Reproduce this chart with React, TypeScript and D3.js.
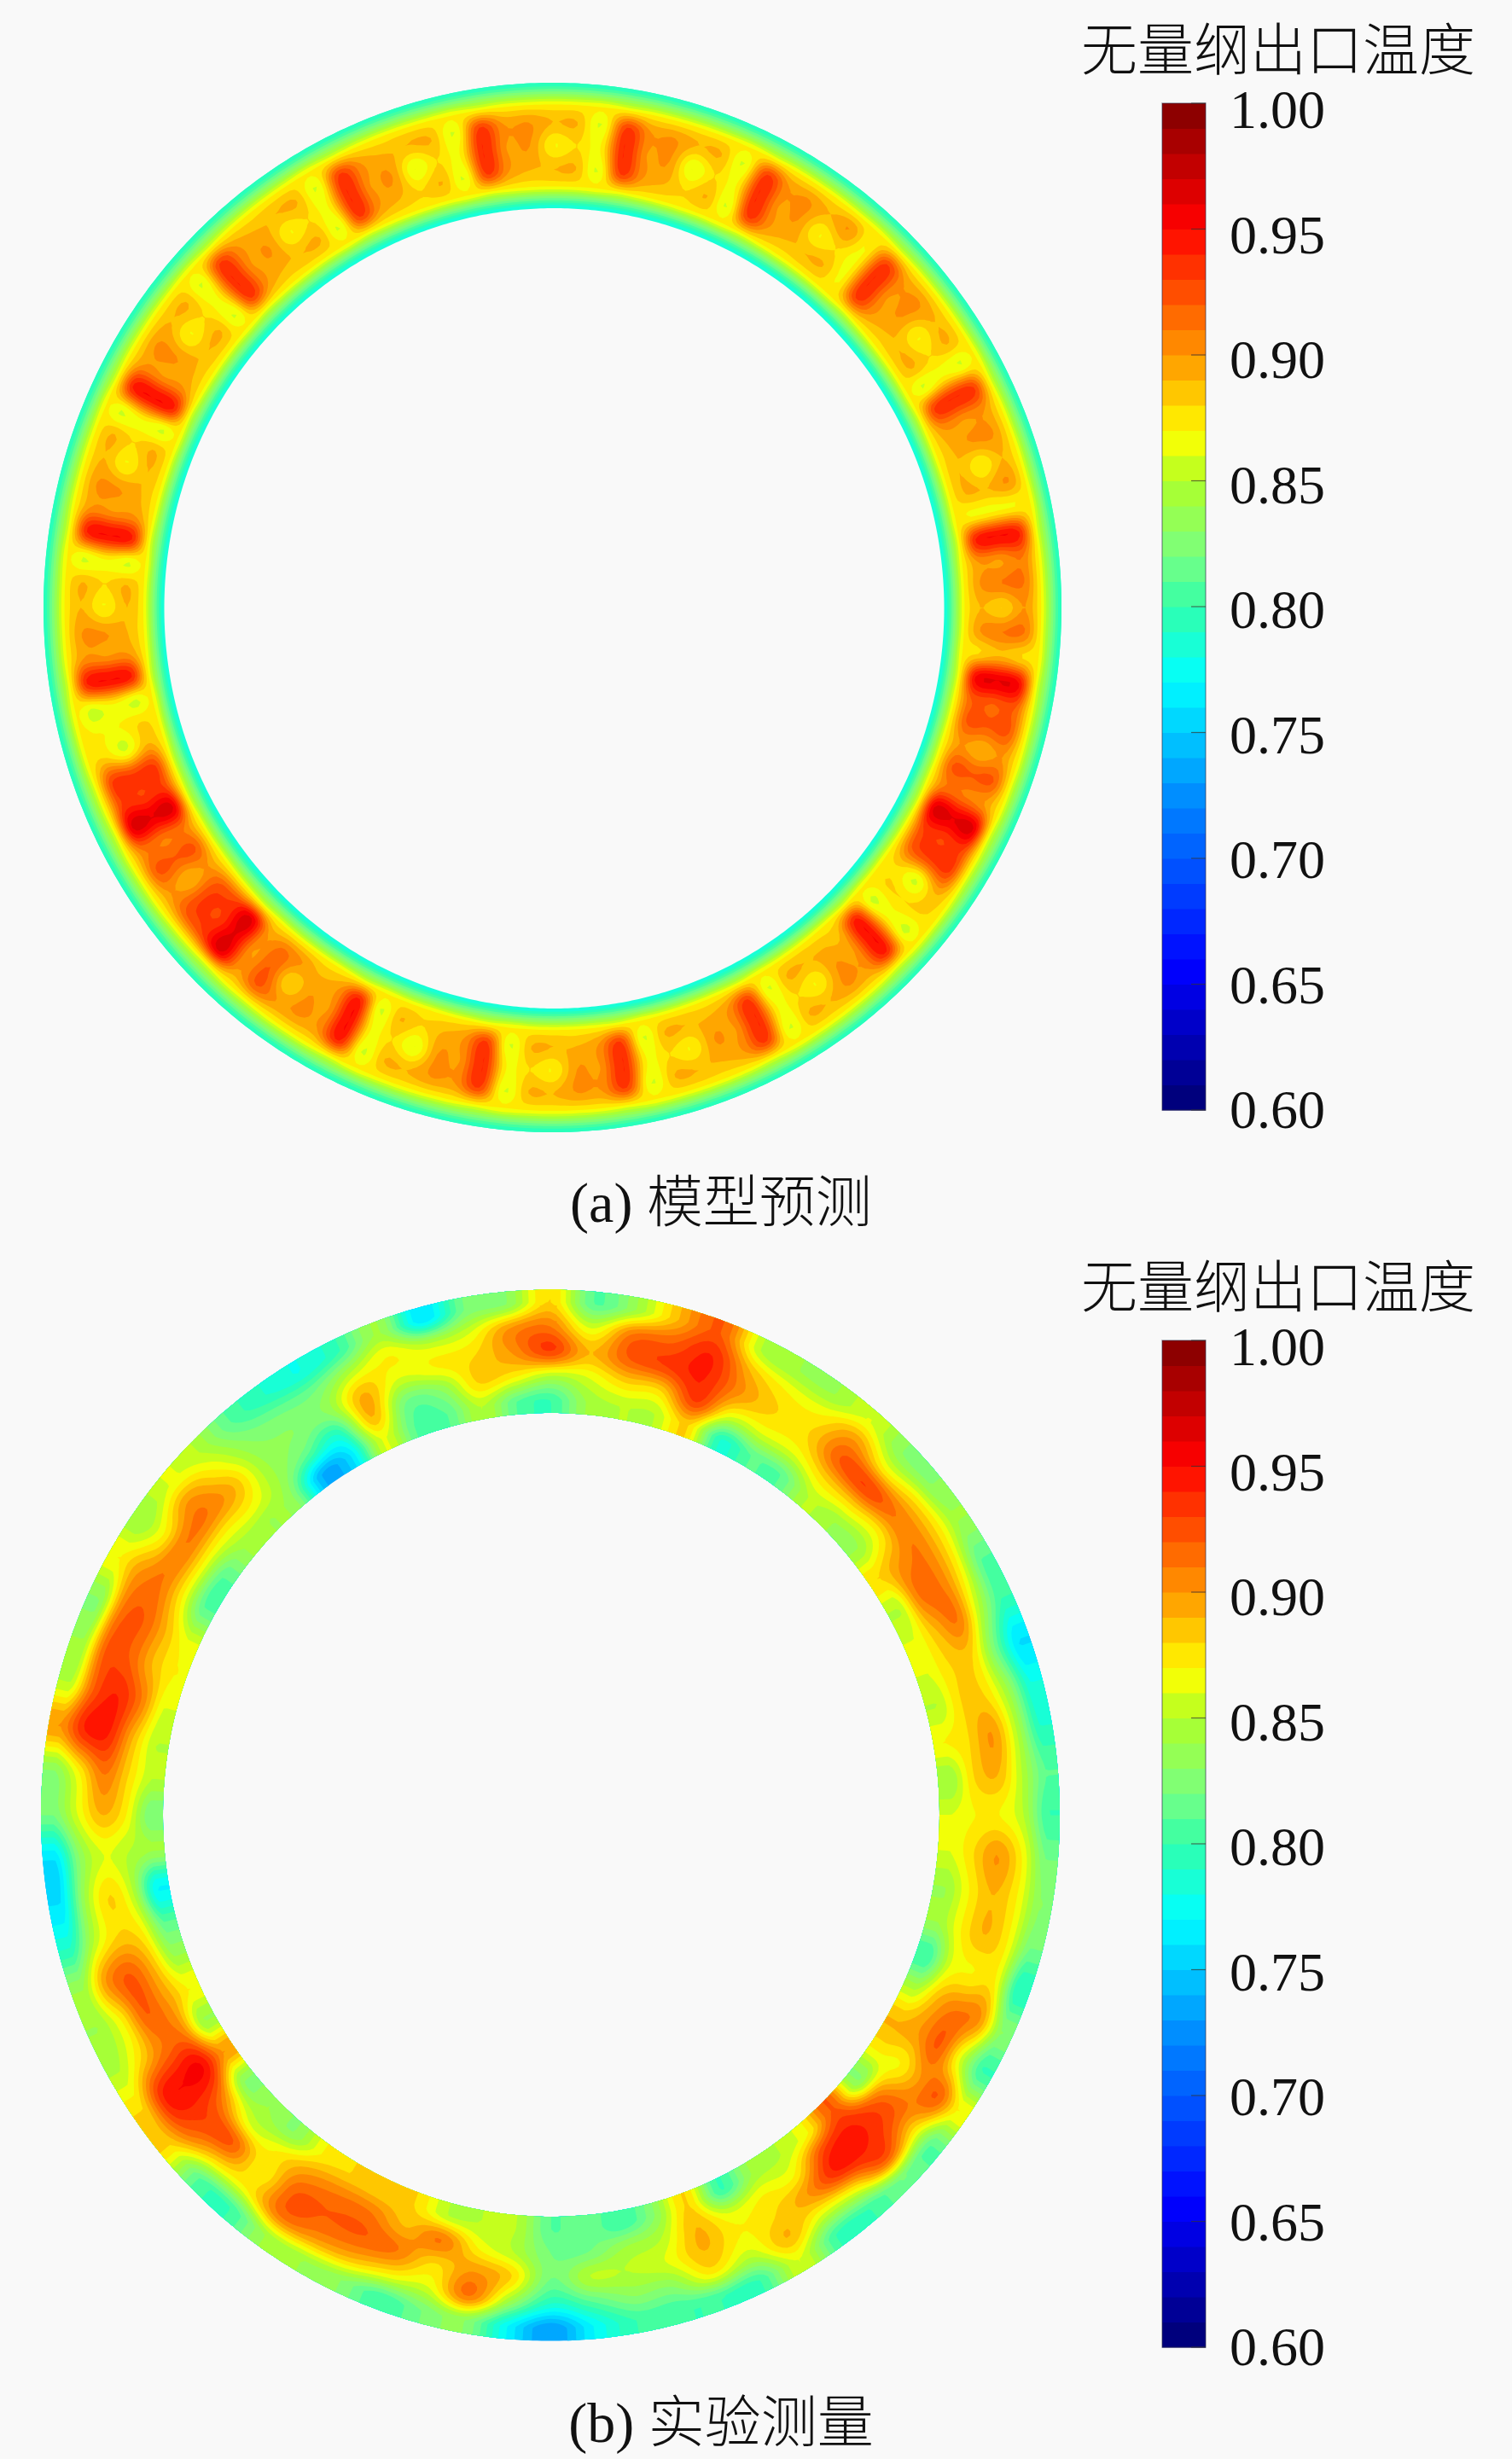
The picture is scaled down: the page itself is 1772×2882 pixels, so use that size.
import React, { useMemo } from "react";
import * as d3 from "d3";

// hundredths of dimensionless outlet temperature, clockwise from 12 o'clock
// panel (a): 3 deg columns, radial rows from the inner to the outer wall
const predInner = [
  89,89,86,93,90,89, 88,89,86,93,90,89, 89,89,87,93,90,89, 89,89,86,93,90,89,
  89,89,87,94,90,90, 89,90,88,95,92,92, 90,92,91,96,93,92, 88,88,86,94,89,89,
  89,89,86,93,90,89, 89,89,86,93,90,89, 89,89,86,93,90,89, 88,89,86,94,90,89,
  90,91,90,96,93,92, 90,92,91,96,93,93, 89,88,86,94,90,89, 89,89,86,94,90,89,
  89,89,86,94,90,89, 89,89,86,93,90,89, 89,89,86,93,90,89, 88,89,86,93,90,89,
];
const predMid = [
  87,88,87,94,90,90, 86,88,87,94,90,90, 87,88,87,94,90,90, 87,88,87,94,90,90,
  87,89,87,95,90,91, 88,91,89,96,92,92, 89,92,91,96,93,93, 86,88,87,95,90,90,
  87,88,87,94,90,90, 87,88,87,94,90,90, 87,88,87,94,90,90, 86,88,87,95,90,90,
  88,92,90,96,93,93, 89,92,91,96,93,93, 86,87,87,95,90,90, 87,88,87,95,90,90,
  87,88,87,95,90,90, 87,88,87,94,90,90, 87,88,87,94,90,90, 86,88,87,94,90,90,
];
const predOuter = [
  89,89,86,93,90,90, 89,89,86,93,90,90, 89,90,87,93,90,90, 89,89,86,93,90,90,
  89,90,87,94,91,91, 90,91,88,95,92,92, 90,92,90,96,93,93, 89,88,86,94,90,90,
  89,89,86,93,90,89, 89,89,86,93,90,90, 89,89,86,93,90,90, 89,89,86,94,90,90,
  90,92,90,96,93,92, 90,92,91,96,93,93, 88,87,86,94,90,90, 89,89,86,94,90,90,
  89,89,86,94,90,90, 89,89,86,93,90,89, 89,89,86,93,90,89, 89,89,86,93,90,90,
];
const predRows = [[78], [82.5], [87], predInner, predMid, predOuter, [87], [83], [79]];
const predFractions = [0, 0.09, 0.17, 0.31, 0.5, 0.69, 0.83, 0.91, 1];

// panel (b): 5 deg columns
const measRow1 = [
  80,84,85,85,88,79,81,81,85,84,84,88,85,86,86,85,87,84,86,86,84,84,80,85,
  89,87,83,92,87,85,84,80,88,83,80,82,81,85,85,85,88,88,88,87,83,84,83,90,
  84,87,84,81,77,84,82,85,85,86,87,86,81,81,84,84,83,74,76,86,81,81,85,81,
];
const measRow2 = [
  85,86,88,88,93,86,86,86,88,88,87,90,91,89,88,88,88,88,87,88,87,87,86,89,
  90,87,91,94,93,87,87,86,89,85,84,82,82,85,87,91,89,91,91,90,87,86,90,95,
  91,90,89,87,85,85,87,88,89,91,89,89,87,87,87,87,84,81,79,89,82,83,88,87,
];
const measRow3 = [
  93,89,92,93,94,90,88,88,92,93,91,91,91,91,88,88,90,89,87,90,89,89,87,91,
  92,90,92,94,94,90,88,87,89,86,85,85,82,88,90,88,91,92,92,92,87,92,93,95,
  91,92,92,88,88,86,89,91,94,94,92,92,91,91,91,89,84,83,83,89,86,87,88,90,
];
const measRow4 = [
  91,86,91,92,94,89,87,87,90,87,88,88,87,85,82,84,85,85,85,87,87,87,87,90,
  86,92,88,92,87,86,89,85,87,83,83,81,79,84,91,86,87,89,90,91,87,88,92,94,
  88,87,90,85,84,83,86,87,94,92,92,91,90,87,90,87,83,82,82,85,87,85,86,90,
];
const measRow5 = [
  88,81,84,89,92,85,84,84,86,83,83,84,81,80,76,78,79,81,80,82,83,82,79,83,
  80,87,81,82,80,80,86,80,80,80,80,77,73,77,83,82,80,83,84,84,80,81,88,88,
  85,84,84,79,76,76,82,83,90,85,84,83,87,84,86,85,81,79,78,80,84,76,82,83,
];
const measRows = [measRow1, measRow2, measRow3, measRow4, measRow5];
const measFractions = [0.1, 0.3, 0.5, 0.7, 0.9];

const tickValues = [1.0, 0.95, 0.9, 0.85, 0.8, 0.75, 0.7, 0.65, 0.6];
const colorStops = [0.6, 0.656, 0.7, 0.72, 0.771, 0.8, 0.82, 0.85, 0.868, 0.9, 0.952, 1.0];
const colorValues = ["#000070", "#0000ff", "#005aff", "#0082ff", "#00ffff", "#32ffaa", "#78ff82", "#afff28", "#ffff00", "#ff9600", "#ff0000", "#800000"];
const levels = d3.range(60, 100).map(d => d / 100);
const titleText = "无量纲出口温度";

const width = 1772;
const height = 2882;
const U = 720;
const V = 40;
const pad = 2;

const color = d3.scaleLinear<string>().domain(colorStops).range(colorValues).interpolate(d3.interpolateRgb);

const cr = (p0: number, p1: number, p2: number, p3: number, t: number) =>
  0.5 * (2 * p1 + (p2 - p0) * t + (2 * p0 - 5 * p1 + 4 * p2 - p3) * t * t + (3 * p1 - p0 - 3 * p2 + p3) * t * t * t);

// resample the read grid onto a fine one so d3.contours gives smooth bands
function buildField(rows: number[][], fractions: number[]) {
  const W = U + pad * 2;
  const rowIndex = d3.scaleLinear().domain(fractions).range(d3.range(fractions.length)).clamp(true);
  const cols = d3.max(rows, r => r.length) as number;
  const samples = rows.map(row =>
    d3.range(W).map(i => {
      const a = ((i - pad) / U) * cols;
      const c = Math.floor(a);
      const at = (k: number) => row[((k % row.length) + row.length) % row.length];
      return cr(at(c - 1), at(c), at(c + 1), at(c + 2), a - c);
    })
  );
  const values = new Float64Array(W * V);
  for (let j = 0; j < V; j++) {
    const ri = rowIndex(j / (V - 1));
    const r = Math.min(Math.floor(ri), rows.length - 2);
    const t = ri - r;
    const s0 = samples[Math.max(r - 1, 0)];
    const s1 = samples[r];
    const s2 = samples[r + 1];
    const s3 = samples[Math.min(r + 2, rows.length - 1)];
    for (let i = 0; i < W; i++) values[j * W + i] = cr(s0[i], s1[i], s2[i], s3[i], t) / 100;
  }
  return { values, W };
}

type Ring = { inner: number[]; outer: number[] }; // cx, cy, rx, ry

function RingContours({ rows, fractions, ring }: { rows: number[][]; fractions: number[]; ring: Ring }) {
  const paths = useMemo(() => {
    const { values, W } = buildField(rows, fractions);
    const low = Math.floor((d3.min(values) as number) * 100) / 100;
    const used = levels.filter(l => l >= low - 0.001);
    const contours = d3.contours().size([W, V]).thresholds(used)(Array.from(values));
    const angle = d3.scaleLinear().domain([0.5 + pad, 0.5 + pad + U]).range([0, 2 * Math.PI]);
    const frac = d3.scaleLinear().domain([0.5, V - 0.5]).range([0, 1]).clamp(true);
    const part = (k: number) => d3.scaleLinear().domain([0, 1]).range([ring.inner[k], ring.outer[k]]);
    const [cx, cy, rx, ry] = [part(0), part(1), part(2), part(3)];
    const project = d3.geoTransform({
      point(x: number, y: number) {
        const a = angle(x);
        const f = frac(y);
        (this as any).stream.point(cx(f) + rx(f) * Math.sin(a), cy(f) - ry(f) * Math.cos(a));
      },
    });
    const path = d3.geoPath(project);
    return contours.map(c => ({ d: path(c as any) as string, fill: color(c.value + 0.005) }));
  }, [rows, fractions, ring]);
  return (
    <g>
      {paths.map((p, i) => (
        <path key={i} d={p.d} fill={p.fill} stroke="none" />
      ))}
    </g>
  );
}

function ColorBar({ dy }: { dy: number }) {
  const y = d3.scaleLinear().domain([0.6, 1]).range([1301 + dy, 121 + dy]);
  const labelY = d3.scaleLinear().domain([0.6, 1]).range([1322 + dy, 150 + dy]);
  const fmt = d3.format(".2f");
  return (
    <g>
      <text x={1498} y={82 + dy} textAnchor="middle" fontSize={66} fontFamily="'Noto Sans CJK SC'" fontWeight={300} fill="#111">
        {titleText}
      </text>
      {levels.map(l => (
        <rect key={l} x={1362} y={y(l + 0.01)} width={51} height={y(l) - y(l + 0.01) + 0.5} fill={color(l + 0.005)} />
      ))}
      <rect x={1362} y={y(1)} width={51} height={y(0.6) - y(1)} fill="none" stroke="#2a2a44" strokeOpacity={0.45} strokeWidth={1.5} />
      {tickValues.map(v => (
        <g key={v}>
          <line x1={1396} x2={1413} y1={y(v)} y2={y(v)} stroke="#333" strokeOpacity={0.7} strokeWidth={1.2} />
          <text x={1441} y={labelY(v)} fontSize={64} fontFamily="'Liberation Serif'" fill="#111">
            {fmt(v)}
          </text>
        </g>
      ))}
    </g>
  );
}

function Caption({ y, label, text }: { y: number; label: string; text: string }) {
  return (
    <text x={845} y={y} textAnchor="middle" fontSize={66} fill="#111">
      <tspan fontFamily="'Liberation Serif'">{label} </tspan>
      <tspan fontFamily="'Noto Sans CJK SC'" fontWeight={300}>{text}</tspan>
    </text>
  );
}

const ringA: Ring = { inner: [649.5, 713, 457, 469], outer: [647.5, 712, 596.5, 615] };
const ringB: Ring = { inner: [646, 2127, 455, 471], outer: [645, 2127.5, 597, 616] };

export default function App() {
  return (
    <svg
      width={width}
      height={height}
      viewBox={`0 0 ${width} ${height}`}
      style={{ position: "absolute", left: 0, top: 0, background: "#f9f9f9" }}
    >
      <RingContours rows={predRows} fractions={predFractions} ring={ringA} />
      <ColorBar dy={0} />
      <Caption y={1432} label="(a)" text="模型预测" />
      <RingContours rows={measRows} fractions={measFractions} ring={ringB} />
      <ColorBar dy={1450} />
      <Caption y={2862} label="(b)" text="实验测量" />
    </svg>
  );
}
